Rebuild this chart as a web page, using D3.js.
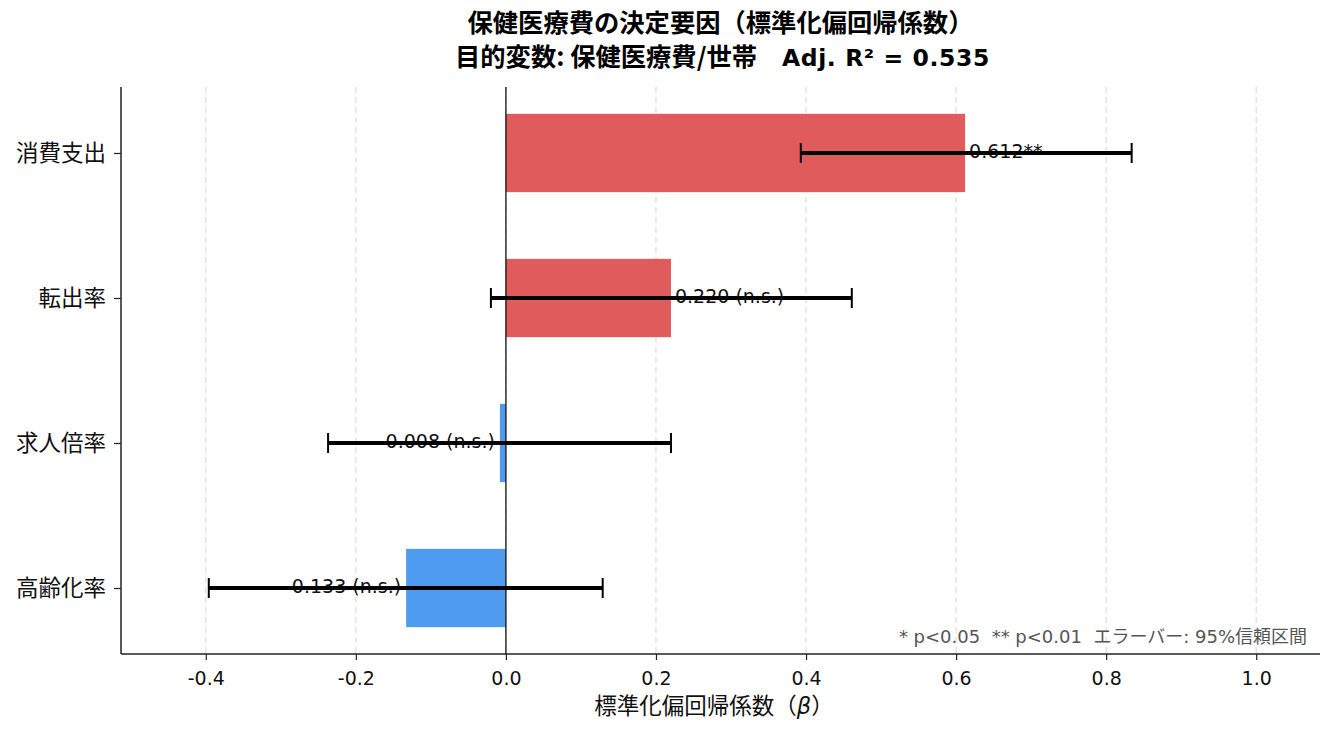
<!DOCTYPE html>
<html>
<head>
<meta charset="utf-8">
<script src="https://cdn.jsdelivr.net/npm/d3@7"></script>
<style>
  body { margin: 0; background: #fff; }
  svg { font-family: "DejaVu Sans", "Noto Sans CJK JP", sans-serif; }
  text { white-space: pre; }
</style>
</head>
<body>
<svg id="chart" width="1335" height="735"></svg>
<script>
const categories = ["消費支出", "転出率", "求人倍率", "高齢化率"];
const betas = [0.612, 0.220, -0.008, -0.133];
const ciLow = [0.393, -0.020, -0.237, -0.396];
const ciHigh = [0.834, 0.461, 0.220, 0.129];
const sigLabels = ["**", " (n.s.)", " (n.s.)", " (n.s.)"];
const xTicks = [-0.4, -0.2, 0.0, 0.2, 0.4, 0.6, 0.8, 1.0];
const titleLine1 = "保健医療費の決定要因（標準化偏回帰係数）";
const titleLine2a = "目的変数: 保健医療費/世帯";
const titleLine2b = "Adj. R² = 0.535";
const xLabelParts = ["標準化偏回帰係数（", "β", "）"];
const footnote = "* p<0.05  ** p<0.01  エラーバー: 95%信頼区間";

const svg = d3.select("#chart");
const m = { left: 121, right: 1320, top: 87, bottom: 654 };
const cjk = '"Noto Sans CJK JP", sans-serif';

const x = d3.scaleLinear().domain([-0.513, 1.085]).range([m.left, m.right]);
const y = d3.scalePoint().domain(categories).range([m.top, m.bottom]).padding(0.455);
const barH = y.step() * 0.54;

// grid
svg.append("g").selectAll("line").data(xTicks).join("line")
  .attr("x1", d => x(d)).attr("x2", d => x(d))
  .attr("y1", m.top).attr("y2", m.bottom)
  .attr("stroke", "#dddddd").attr("stroke-width", 1.2).attr("stroke-dasharray", "6,4");

const data = categories.map((c, i) => ({ c, b: betas[i], lo: ciLow[i], hi: ciHigh[i], s: sigLabels[i] }));

// bars
svg.append("g").selectAll("rect").data(data).join("rect")
  .attr("x", d => Math.min(x(0), x(d.b)))
  .attr("width", d => Math.abs(x(d.b) - x(0)))
  .attr("y", d => y(d.c) - barH / 2)
  .attr("height", barH)
  .attr("fill", d => d.b >= 0 ? "#E05C5C" : "#4F9BEF");

// zero line
svg.append("line")
  .attr("x1", x(0)).attr("x2", x(0)).attr("y1", m.top).attr("y2", m.bottom)
  .attr("stroke", "#111").attr("stroke-width", 1.3);

// value labels
svg.append("g").selectAll("text").data(data).join("text")
  .attr("x", d => d.b >= 0 ? x(d.b) + 4 : x(d.b) - 5)
  .attr("y", d => y(d.c) - 2)
  .attr("dy", "0.35em")
  .attr("text-anchor", d => d.b >= 0 ? "start" : "end")
  .attr("font-size", 19)
  .attr("fill", "#111")
  .text(d => d.b.toFixed(3) + d.s);

// error bars
const eb = svg.append("g").selectAll("g").data(data).join("g");
eb.append("line")
  .attr("x1", d => x(d.lo)).attr("x2", d => x(d.hi))
  .attr("y1", d => y(d.c)).attr("y2", d => y(d.c))
  .attr("stroke", "#000").attr("stroke-width", 3.8);
eb.append("line")
  .attr("x1", d => x(d.lo)).attr("x2", d => x(d.lo))
  .attr("y1", d => y(d.c) - 10).attr("y2", d => y(d.c) + 10)
  .attr("stroke", "#000").attr("stroke-width", 2);
eb.append("line")
  .attr("x1", d => x(d.hi)).attr("x2", d => x(d.hi))
  .attr("y1", d => y(d.c) - 10).attr("y2", d => y(d.c) + 10)
  .attr("stroke", "#000").attr("stroke-width", 2);

// axes
const xAxis = d3.axisBottom(x).tickValues(xTicks)
  .tickFormat(d => d3.format(".1f")(d).replace("−", "-")).tickSize(6).tickPadding(12);
const gx = svg.append("g").attr("transform", `translate(0,${m.bottom})`).call(xAxis);
gx.select(".domain").attr("stroke", "#222").attr("stroke-width", 1.5).attr("d", `M${m.left},0H${m.right}`);
gx.selectAll(".tick line").attr("stroke", "#222").attr("stroke-width", 1.2);
gx.selectAll(".tick text").attr("font-size", 19).attr("fill", "#111")
  .attr("font-family", '"DejaVu Sans", sans-serif');

const yAxis = d3.axisLeft(y).tickSize(7).tickPadding(8);
const gy = svg.append("g").attr("transform", `translate(${m.left},0)`).call(yAxis);
gy.select(".domain").attr("stroke", "#222").attr("stroke-width", 1.5).attr("d", `M0,${m.top}V${m.bottom}`);
gy.selectAll(".tick line").attr("stroke", "#222").attr("stroke-width", 1.2);
gy.selectAll(".tick text").attr("font-size", 22.5).attr("fill", "#111")
  .attr("font-family", cjk);

// x label
const xl = svg.append("text").attr("x", 714).attr("y", 714)
  .attr("text-anchor", "middle").attr("font-size", 22.5).attr("fill", "#111")
  .attr("font-family", cjk);
xl.append("tspan").text(xLabelParts[0]);
xl.append("tspan").attr("font-style", "italic").attr("font-family", '"DejaVu Sans", sans-serif').text(xLabelParts[1]);
xl.append("tspan").text(xLabelParts[2]);

// footnote
svg.append("text").attr("x", 1307).attr("y", 643)
  .attr("text-anchor", "end").attr("font-size", 18).attr("fill", "#555")
  .text(footnote);

// titles
const cx = (m.left + m.right) / 2;
svg.append("text").attr("x", cx).attr("y", 32).attr("text-anchor", "middle")
  .attr("font-size", 25.3).attr("font-weight", "bold").attr("fill", "#000")
  .attr("font-family", cjk).text(titleLine1);
const t2 = svg.append("text").attr("y", 65.5)
  .attr("font-weight", "bold").attr("fill", "#000");
t2.append("tspan").attr("x", 455).attr("font-size", 25.3).attr("font-family", cjk).text(titleLine2a);
t2.append("tspan").attr("x", 782).attr("font-size", 23.5).attr("letter-spacing", 0.6)
  .attr("font-family", '"DejaVu Sans", sans-serif').text(titleLine2b);
</script>
</body>
</html>
